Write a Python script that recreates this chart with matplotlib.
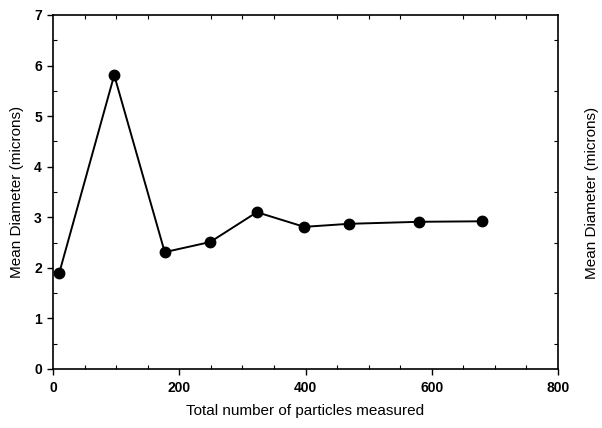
import matplotlib
matplotlib.use("Agg")
import matplotlib.pyplot as plt
from matplotlib.ticker import MultipleLocator

plt.rcParams['font.family'] = ['Liberation Sans', 'DejaVu Sans']

particles = [10, 97, 177, 249, 323, 398, 469, 580, 680]
diameter = [1.90, 5.81, 2.31, 2.51, 3.10, 2.81, 2.87, 2.91, 2.92]
xticks = [0, 200, 400, 600, 800]
yticks = [0, 1, 2, 3, 4, 5, 6, 7]

fig = plt.figure(figsize=(6.02, 4.28), dpi=100)
ax = fig.add_axes([0.088, 0.138, 0.839, 0.827])
ax.plot(particles, diameter, color='black', lw=1.4, marker='o', ms=7.5, zorder=3)
ax.set_xlim(0, 800)
ax.set_ylim(0, 7)
ax.set_xticks(xticks)
ax.set_yticks(yticks)
ax.xaxis.set_minor_locator(MultipleLocator(50))
ax.yaxis.set_minor_locator(MultipleLocator(0.5))
ax.tick_params(axis='x', which='major', direction='out', length=4, width=1, top=False, labelsize=10, pad=5)
ax.tick_params(axis='x', which='minor', direction='in', length=3, width=0.8, top=True)
ax.tick_params(axis='y', which='major', direction='out', length=4, width=1, right=False, labelsize=10, pad=4)
ax.tick_params(axis='y', which='minor', direction='in', length=3, width=0.8, right=True)
for lbl in ax.get_xticklabels() + ax.get_yticklabels():
    lbl.set_fontweight('bold')
for s in ax.spines.values():
    s.set_linewidth(1.2)
ax.set_xlabel('Total number of particles measured', fontsize=11, labelpad=6)
ax.set_ylabel('Mean Diameter (microns)', fontsize=11, labelpad=7)
fig.text(0.983, 0.55, 'Mean Diameter (microns)', rotation=90, fontsize=11,
         ha='center', va='center')
fig.savefig('out.png', dpi=100)
